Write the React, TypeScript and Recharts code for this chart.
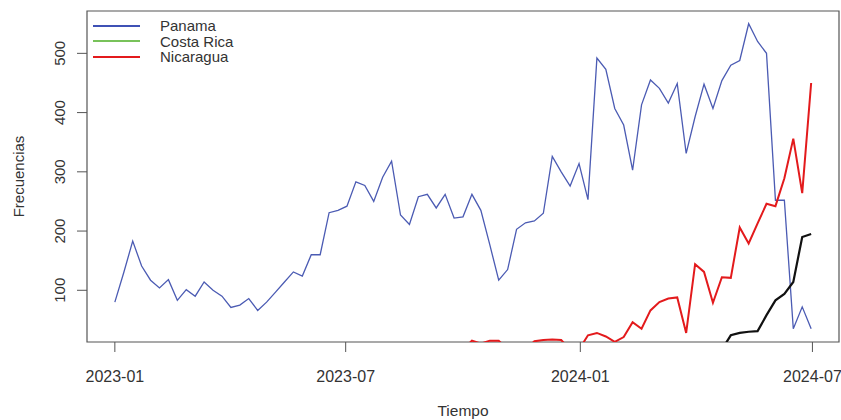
import React from 'react'
import { LineChart, Line, XAxis, YAxis, ReferenceArea } from 'recharts'

// weekly series, first week 2023-01-01
const panama = [
  80, 130, 183, 141, 117, 104, 118, 83, 101, 90, 114, 100, 90, 71, 75, 86,
  66, 80, 97, 114, 131, 124, 160, 160, 231, 235, 242, 283, 277, 250, 291, 318,
  227, 211, 258, 262, 239, 262, 222, 224, 262, 235, 177, 117, 135, 203, 214, 217,
  230, 326, 300, 276, 314, 253, 492, 473, 407, 379, 303, 413, 455, 441, 416, 449,
  331, 393, 448, 407, 454, 480, 488, 550, 520, 500, 252, 252, 35, 72, 35,
]
const nicaragua = [
  0, 0, 0, 0, 0, 0, 0, 0, 0, 0, 0, 0, 0, 0, 0, 0,
  0, 0, 0, 0, 0, 0, 0, 0, 0, 0, 0, 0, 0, 0, 0, 0,
  0, 0, 0, 0, 0, 0, 0, 0, 15, 10, 15, 15, 0, 0, 0, 14,
  16, 17, 16, 0, 0, 24, 28, 22, 13, 21, 46, 35, 66, 80, 86, 88,
  28, 144, 131, 79, 122, 121, 206, 179, 213, 246, 242, 289, 356, 264, 450,
]
const costaRica = [
  0, 0, 0, 0, 0, 0, 0, 0, 0, 0, 0, 0, 0, 0, 0, 0,
  0, 0, 0, 0, 0, 0, 0, 0, 0, 0, 0, 0, 0, 0, 0, 0,
  0, 0, 0, 0, 0, 0, 0, 0, 0, 0, 0, 0, 0, 0, 0, 0,
  0, 0, 0, 0, 0, 0, 0, 0, 0, 0, 0, 0, 0, 0, 0, 0,
  0, 0, 0, 0, 0, 24, 28, 30, 31, 58, 83, 94, 114, 190, 195,
]

// days since 2023-01-01
const xTicks = [0, 181, 365, 547]
const xTickLabels = ['2023-01', '2023-07', '2024-01', '2024-07']
const yTicks = [100, 200, 300, 400, 500]

const legendItems = [
  { name: 'Panama', color: '#3f51b5' },
  { name: 'Costa Rica', color: '#78c25a' },
  { name: 'Nicaragua', color: '#e31a1c' },
]

const data = panama.map((v, i) => ({
  day: i * 7,
  panama: v,
  nicaragua: nicaragua[i],
  costaRica: costaRica[i],
}))

const X_DOMAIN = [-21.84, 567.84]
const Y_DOMAIN = [12.7, 571.5]
const FONT = '"Liberation Sans", Arial, sans-serif'
const TEXT = '#333'

function YTick({ x, y, payload }: any) {
  const bx = x - 10
  return (
    <text x={bx} y={y} transform={`rotate(-90, ${bx}, ${y})`} textAnchor="middle"
      fontSize={15} fill={TEXT} fontFamily={FONT}>
      {payload.value}
    </text>
  )
}

function YLabel({ viewBox }: any) {
  const cy = viewBox.y + viewBox.height / 2
  return (
    <text x={24} y={cy} transform={`rotate(-90, 24, ${cy})`} textAnchor="middle"
      fontSize={15} fill={TEXT} fontFamily={FONT}>
      Frecuencias
    </text>
  )
}

export default function App() {
  return (
    <div style={{ position: 'absolute', left: 0, top: 0, width: 841, height: 420, background: '#fff', fontFamily: FONT }}>
      <LineChart width={841} height={420} data={data} margin={{ top: 11, right: 2, left: 0, bottom: 0 }}>
        <XAxis
          dataKey="day" type="number" domain={X_DOMAIN} allowDataOverflow
          ticks={xTicks} tickFormatter={(v: number) => xTickLabels[xTicks.indexOf(v)]}
          axisLine={false} tickLine={{ stroke: '#555' }} tickSize={10} tickMargin={19}
          tick={{ fontSize: 16, fill: TEXT, fontFamily: FONT }} height={78}
          label={{ value: 'Tiempo', position: 'insideBottom', offset: 4, fontSize: 15.5, fill: TEXT, fontFamily: FONT }}
        />
        <YAxis
          type="number" domain={Y_DOMAIN} allowDataOverflow ticks={yTicks}
          axisLine={false} tickLine={{ stroke: '#555' }} tickSize={10}
          tick={<YTick />} width={87} label={<YLabel />}
        />
        <ReferenceArea x1={X_DOMAIN[0]} x2={X_DOMAIN[1]} y1={Y_DOMAIN[0]} y2={Y_DOMAIN[1]}
          fill="none" stroke="#555" strokeWidth={1.2} ifOverflow="visible" />
        <Line type="linear" dataKey="panama" stroke="#4b5bb3" strokeWidth={1.3} dot={false} isAnimationActive={false} />
        <Line type="linear" dataKey="nicaragua" stroke="#e31a1c" strokeWidth={2} dot={false} isAnimationActive={false} />
        <Line type="linear" dataKey="costaRica" stroke="#111" strokeWidth={2.2} dot={false} isAnimationActive={false} />
      </LineChart>
      <div style={{ position: 'absolute', left: 93, top: 18 }}>
        {legendItems.map(item => (
          <div key={item.name} style={{ display: 'flex', alignItems: 'center', height: 15.5 }}>
            <div style={{ width: 47, height: 2, background: item.color }} />
            <span style={{ marginLeft: 20, fontSize: 15, color: TEXT, lineHeight: '15.5px' }}>{item.name}</span>
          </div>
        ))}
      </div>
    </div>
  )
}
